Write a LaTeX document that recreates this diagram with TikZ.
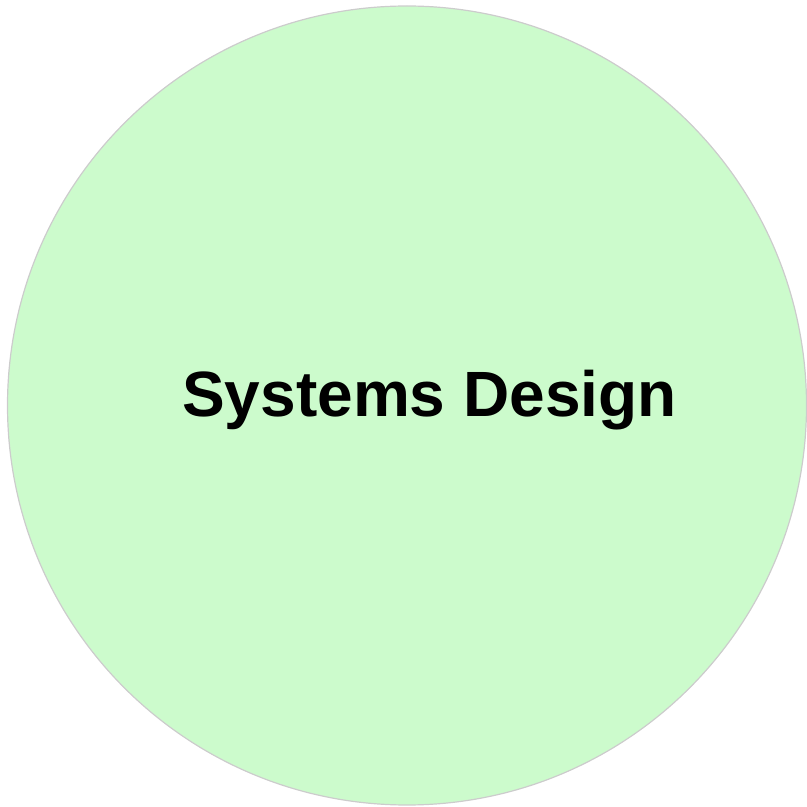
\documentclass[tikz,border=0pt]{standalone}
\usepackage{fontspec}
\setmainfont{Liberation Sans}
\definecolor{topicgreen}{HTML}{CCFBCC}
\definecolor{rimgray}{HTML}{CCCCCC}
\begin{document}
\begin{tikzpicture}[x=1pt,y=1pt]
\useasboundingbox (0,0) rectangle (807,807);
\node[draw=rimgray, fill=topicgreen, circle, line width=1.2pt, minimum size=799pt, inner sep=0pt] (topic) at (407,401.5) {};
\node[font=\fontsize{64}{70}\selectfont\bfseries] (title) at (429.5,407) {Systems Design};
\end{tikzpicture}
\end{document}
